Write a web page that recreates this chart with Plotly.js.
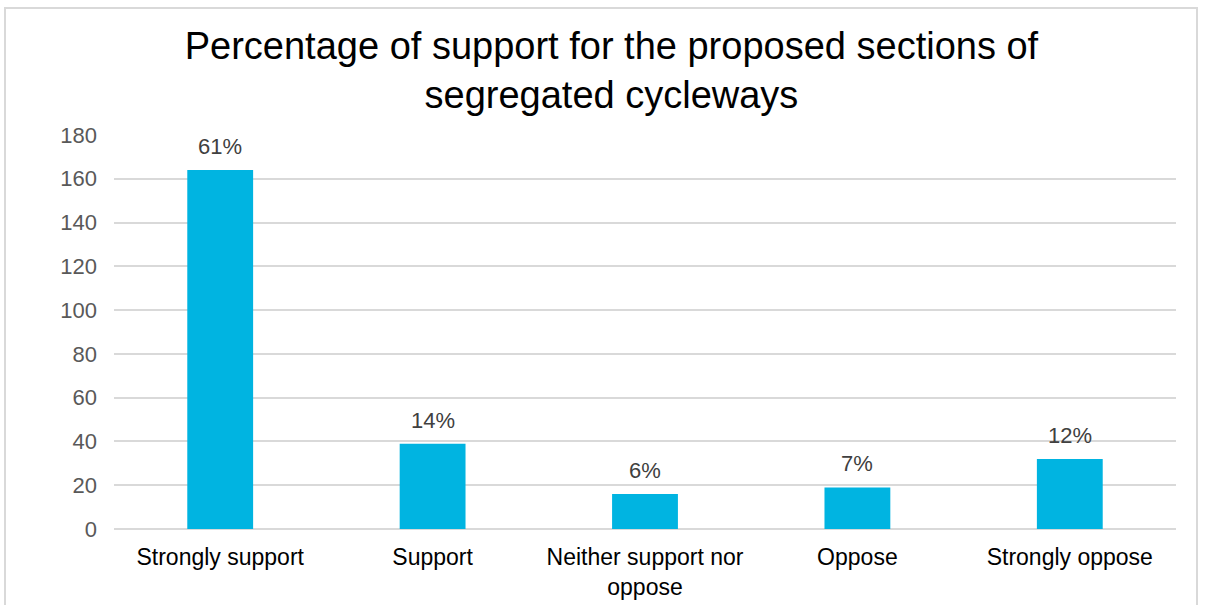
<!DOCTYPE html>
<html>
<head>
<meta charset="utf-8">
<script src="https://cdn.plot.ly/plotly-3.0.1.min.js"></script>
<style>
  html, body { margin: 0; padding: 0; background: #ffffff; }
  #wrap { position: relative; width: 1206px; height: 605px; overflow: hidden; }
  #chart { position: absolute; left: 0; top: 0; width: 1206px; height: 605px; }
  #frame { position: absolute; left: 4px; top: 7px; width: 1194px; height: 640px;
           border: 2px solid #d9d9d9; box-sizing: border-box; pointer-events: none; }
</style>
</head>
<body>
<div id="wrap">
  <div id="chart"></div>
  <div id="frame"></div>
</div>
<script>
const categories = ["Strongly support", "Support", "Neither support nor<br>oppose", "Oppose", "Strongly oppose"];
const counts = [164, 39, 16, 19, 32];
const percentLabels = ["61%", "14%", "6%", "7%", "12%"];
const yTickValues = [0, 20, 40, 60, 80, 100, 120, 140, 160, 180];

const trace = {
  type: "bar",
  x: categories,
  y: counts,
  marker: { color: "#00B4E1" },
  hoverinfo: "x+y"
};

const annotations = categories.map((c, i) => ({
  x: c, y: counts[i], xref: "x", yref: "y",
  text: percentLabels[i], showarrow: false,
  yanchor: "bottom", yshift: 9,
  font: { family: "Liberation Sans, Arial, sans-serif", size: 22, color: "#404040" }
}));

const layout = {
  width: 1206, height: 605,
  paper_bgcolor: "rgba(0,0,0,0)",
  plot_bgcolor: "#ffffff",
  margin: { l: 114, r: 30, t: 135, b: 76 },
  bargap: 0.69,
  showlegend: false,
  title: {
    text: "Percentage of support for the proposed sections of<br>segregated cycleways",
    font: { family: "Liberation Sans, Arial, sans-serif", size: 38, color: "#000000" },
    x: 0.507, xanchor: "center",
    y: 0.903, yanchor: "top"
  },
  xaxis: {
    type: "category",
    showgrid: false,
    showline: false,
    zeroline: false,
    ticks: "",
    ticklabelstandoff: 12,
    tickfont: { family: "Liberation Sans, Arial, sans-serif", size: 23, color: "#000000" }
  },
  yaxis: {
    range: [0, 180],
    tickvals: yTickValues,
    showgrid: true,
    gridcolor: "#d9d9d9",
    gridwidth: 1.5,
    zeroline: true,
    zerolinecolor: "#d9d9d9",
    zerolinewidth: 2,
    showline: false,
    ticks: "",
    ticklabelstandoff: 16,
    tickfont: { family: "Liberation Sans, Arial, sans-serif", size: 22, color: "#595959" }
  },
  annotations: annotations
};

Plotly.newPlot("chart", [trace], layout, { displayModeBar: false });
</script>
</body>
</html>
